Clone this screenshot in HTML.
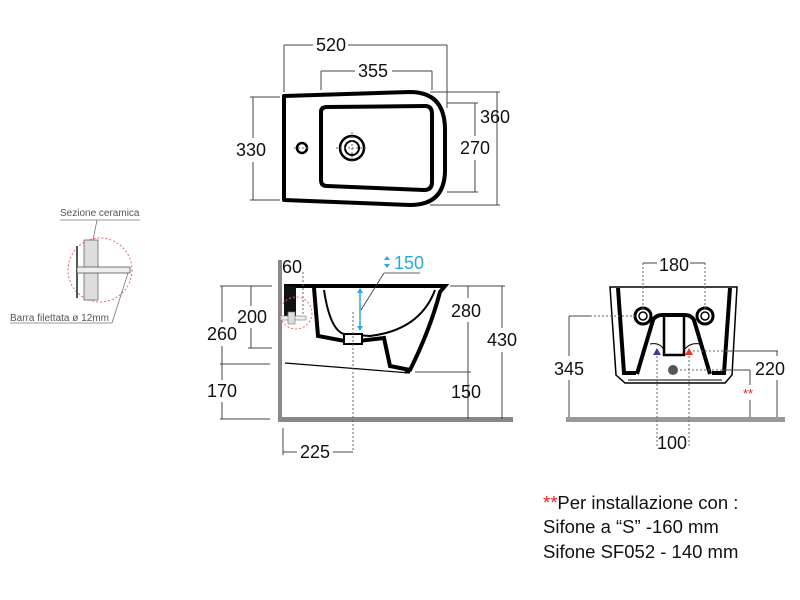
<!DOCTYPE html>
<html><head><meta charset="utf-8"><style>
html,body{margin:0;padding:0;background:#fff}
svg{display:block}
.d{font-family:"Liberation Sans",sans-serif;font-size:18px;fill:#111;text-anchor:middle}
.dl{stroke:#444;stroke-width:1;fill:none}
.dash{stroke:#666;stroke-width:1;stroke-dasharray:2,2;fill:none}
.o{stroke:#000;stroke-width:4;fill:none;stroke-linejoin:round}
</style></head><body>
<svg width="800" height="600" viewBox="0 0 800 600" xmlns="http://www.w3.org/2000/svg">
<!-- TOP VIEW -->
<path class="o" d="M284,96 L410,92 Q445,92 445,130 L445,170 Q445,205 410,205 L284,200 Z"/>
<path class="o" d="M321,112 Q321,107 327,107 L425,106 Q432,106 432,114 L432,182 Q432,190 424,190 L327,186 Q321,186 321,180 Z" stroke-width="3.5"/>
<circle cx="352" cy="148" r="12" fill="none" stroke="#000" stroke-width="2.5"/>
<circle cx="352" cy="148" r="7" fill="none" stroke="#000" stroke-width="2"/>
<circle cx="302" cy="148" r="5" fill="none" stroke="#000" stroke-width="2.5"/>
<line class="dash" x1="336" y1="148" x2="368" y2="148"/><line class="dash" x1="352" y1="132" x2="352" y2="164"/>
<line class="dash" x1="294" y1="148" x2="310" y2="148"/>
<line class="dl" x1="284" y1="45" x2="313" y2="45"/><line class="dl" x1="348" y1="45" x2="447" y2="45"/>
<line class="dl" x1="284" y1="45" x2="284" y2="92"/><line class="dl" x1="447" y1="45" x2="447" y2="108"/>
<text class="d" x="331" y="51">520</text>
<line class="dl" x1="321" y1="71" x2="355" y2="71"/><line class="dl" x1="392" y1="71" x2="432" y2="71"/>
<line class="dl" x1="321" y1="71" x2="321" y2="90"/><line class="dl" x1="432" y1="71" x2="432" y2="90"/>
<text class="d" x="373" y="77">355</text>
<line class="dl" x1="497" y1="92" x2="497" y2="205"/><line class="dl" x1="430" y1="92" x2="500" y2="92"/><line class="dl" x1="430" y1="205" x2="500" y2="205"/>
<text class="d" x="495" y="123">360</text>
<line class="dl" x1="475" y1="103" x2="475" y2="136"/><line class="dl" x1="475" y1="160" x2="475" y2="192"/>
<line class="dl" x1="447" y1="103" x2="478" y2="103"/><line class="dl" x1="447" y1="192" x2="478" y2="192"/>
<text class="d" x="475" y="154">270</text>
<line class="dl" x1="253" y1="97" x2="253" y2="138"/><line class="dl" x1="253" y1="162" x2="253" y2="200"/>
<line class="dl" x1="250" y1="97" x2="280" y2="97"/><line class="dl" x1="250" y1="200" x2="280" y2="200"/>
<text class="d" x="251" y="156">330</text>

<!-- DETAIL -->
<line x1="60" y1="220" x2="140" y2="220" stroke="#777" stroke-width="0.8"/>
<text x="60" y="216" font-family="Liberation Sans,sans-serif" font-size="10" fill="#555">Sezione ceramica</text>
<line x1="97" y1="220" x2="93" y2="240" stroke="#777" stroke-width="0.8"/>
<circle cx="100" cy="270" r="32" fill="none" stroke="#e66" stroke-width="1" stroke-dasharray="2,2"/>
<rect x="84" y="240" width="14" height="60" fill="#ddd" stroke="#666" stroke-width="0.8"/>
<line x1="77" y1="246" x2="77" y2="298" stroke="#555" stroke-width="2"/>
<rect x="77" y="267" width="53" height="6" fill="#eee" stroke="#555" stroke-width="0.8"/>
<line x1="10" y1="323" x2="112" y2="323" stroke="#777" stroke-width="0.8"/>
<line x1="112" y1="323" x2="128" y2="273" stroke="#777" stroke-width="0.8"/>
<text x="10" y="321" font-family="Liberation Sans,sans-serif" font-size="10" fill="#555">Barra filettata ø 12mm</text>

<!-- SIDE VIEW -->
<rect x="278" y="260" width="4" height="161" fill="#888"/>
<rect x="278" y="417" width="235" height="5" fill="#888"/>
<path d="M284,286 L445,286 L440,292 Q430,330 410,370 L405,372" stroke="#000" stroke-width="4" fill="none"/>
<path d="M314,288 L318,336 L350,342 L384,338 L390,366 L410,370" stroke="#000" stroke-width="4" fill="none"/>
<path d="M324,290 Q330,330 344,334 L370,336 Q420,330 435,290" stroke="#000" stroke-width="2" fill="none"/>
<rect x="344" y="334" width="18" height="10" fill="#fff" stroke="#000" stroke-width="2"/>
<rect x="284" y="286" width="12" height="30" fill="#111"/>
<line x1="285" y1="363" x2="410" y2="373" stroke="#000" stroke-width="1.2"/>
<rect x="280" y="316" width="26" height="4" fill="#eee" stroke="#777" stroke-width="0.6"/>
<rect x="288" y="312" width="7" height="12" fill="#ddd" stroke="#777" stroke-width="0.6"/>
<circle cx="296" cy="313" r="16" fill="none" stroke="#e66" stroke-width="1" stroke-dasharray="2,2"/>
<line x1="360" y1="289" x2="360" y2="330" stroke="#29a8e0" stroke-width="1.5"/>
<path d="M357,293 L360,288 L363,293 Z M357,326 L360,331 L363,326 Z" fill="#29a8e0"/>
<line x1="361" y1="310" x2="384" y2="273" stroke="#333" stroke-width="0.8"/>
<line x1="384" y1="273" x2="420" y2="273" stroke="#333" stroke-width="0.8"/>
<path d="M384,260 L387,256 L390,260 Z M384,264 L387,268 L390,264 Z" fill="#29a8e0"/>
<text x="394" y="269" font-family="Liberation Sans,sans-serif" font-size="18" fill="#29a8e0">150</text>
<line class="dash" x1="353" y1="312" x2="353" y2="452"/>
<line class="dash" x1="303" y1="272" x2="303" y2="315"/>
<text class="d" x="292" y="273">60</text>
<line class="dl" x1="251" y1="286" x2="251" y2="306"/><line class="dl" x1="251" y1="328" x2="251" y2="348"/>
<line class="dl" x1="220" y1="286" x2="272" y2="286"/><line class="dl" x1="248" y1="348" x2="272" y2="348"/>
<text class="d" x="252" y="323">200</text>
<line class="dl" x1="222" y1="286" x2="222" y2="322"/><line class="dl" x1="222" y1="346" x2="222" y2="364"/>
<line class="dl" x1="220" y1="364" x2="270" y2="364"/>
<text class="d" x="222" y="340">260</text>
<line class="dl" x1="222" y1="364" x2="222" y2="380"/><line class="dl" x1="222" y1="402" x2="222" y2="419"/>
<line class="dl" x1="220" y1="419" x2="270" y2="419"/>
<text class="d" x="222" y="397">170</text>
<line class="dl" x1="450" y1="286" x2="505" y2="286"/><line class="dl" x1="415" y1="372" x2="471" y2="372"/>
<line class="dl" x1="468" y1="286" x2="468" y2="298"/><line class="dl" x1="468" y1="322" x2="468" y2="419"/>
<text class="d" x="466" y="317">280</text>
<text class="d" x="466" y="398">150</text>
<line class="dl" x1="502" y1="286" x2="502" y2="328"/><line class="dl" x1="502" y1="352" x2="502" y2="419"/>
<text class="d" x="502" y="346">430</text>
<line class="dl" x1="283" y1="428" x2="283" y2="455"/>
<line class="dl" x1="283" y1="452" x2="297" y2="452"/><line class="dl" x1="333" y1="452" x2="353" y2="452"/>
<text class="d" x="315" y="458">225</text>

<!-- FRONT VIEW -->
<rect x="566" y="417" width="219" height="5" fill="#999"/>
<path d="M610,287 L737,287 L732,375 L725,383 L625,383 L616,375 Z" fill="none" stroke="#000" stroke-width="1.5"/>
<path d="M618,288 L624,373 L636,373" fill="none" stroke="#000" stroke-width="4"/>
<path d="M730,288 L724,373 L712,373" fill="none" stroke="#000" stroke-width="4"/>
<path d="M637,374 L653,320 Q656,315 662,315 L685,315 Q691,315 694,320 L710,374" fill="none" stroke="#000" stroke-width="4"/>
<rect x="664" y="315" width="20" height="40" fill="none" stroke="#000" stroke-width="2.5"/>
<path d="M650,344 Q660,342 664,350 M684,350 Q690,342 700,344" fill="none" stroke="#000" stroke-width="1"/>
<line x1="628" y1="380" x2="722" y2="380" stroke="#000" stroke-width="1"/>
<circle cx="643" cy="316" r="8" fill="none" stroke="#000" stroke-width="3"/><circle cx="643" cy="316" r="4" fill="none" stroke="#000" stroke-width="1.5"/>
<circle cx="705" cy="316" r="8" fill="none" stroke="#000" stroke-width="3"/><circle cx="705" cy="316" r="4" fill="none" stroke="#000" stroke-width="1.5"/>
<circle cx="673" cy="370" r="5" fill="#555"/>
<path d="M653,355 L657,348 L661,355 Z" fill="#3b3b9b"/><path d="M685,355 L689,348 L693,355 Z" fill="#e33"/>
<line class="dash" x1="643" y1="263" x2="643" y2="310"/><line class="dash" x1="705" y1="263" x2="705" y2="310"/>
<line class="dl" x1="643" y1="263" x2="657" y2="263"/><line class="dl" x1="690" y1="263" x2="705" y2="263"/>
<text class="d" x="674" y="271">180</text>
<line class="dash" x1="590" y1="316" x2="635" y2="316"/>
<line class="dl" x1="569" y1="316" x2="590" y2="316"/>
<line class="dl" x1="569" y1="316" x2="569" y2="356"/><line class="dl" x1="569" y1="380" x2="569" y2="417"/>
<text class="d" x="569" y="375">345</text>
<line class="dash" x1="693" y1="351" x2="728" y2="351"/><line class="dl" x1="728" y1="351" x2="778" y2="351"/>
<line class="dl" x1="777" y1="351" x2="777" y2="356"/><line class="dl" x1="777" y1="380" x2="777" y2="417"/>
<text class="d" x="770" y="375">220</text>
<line class="dash" x1="680" y1="370" x2="722" y2="370"/><line class="dl" x1="722" y1="370" x2="750" y2="370"/>
<line class="dl" x1="750" y1="370" x2="750" y2="385"/><line class="dl" x1="750" y1="400" x2="750" y2="417"/>
<text x="748" y="398" font-family="Liberation Sans,sans-serif" font-size="13" fill="#e22" text-anchor="middle">**</text>
<line class="dash" x1="657" y1="356" x2="657" y2="448"/><line class="dash" x1="689" y1="356" x2="689" y2="448"/>
<text class="d" x="672" y="449">100</text>

<!-- NOTE -->
<g font-family="Liberation Sans,sans-serif" font-size="18.5" fill="#111">
<text x="543" y="509"><tspan fill="#e22">**</tspan>Per installazione con :</text>
<text x="543" y="533">Sifone a “S” -160 mm</text>
<text x="543" y="558">Sifone SF052 - 140 mm</text>
</g>
</svg>
</body></html>
